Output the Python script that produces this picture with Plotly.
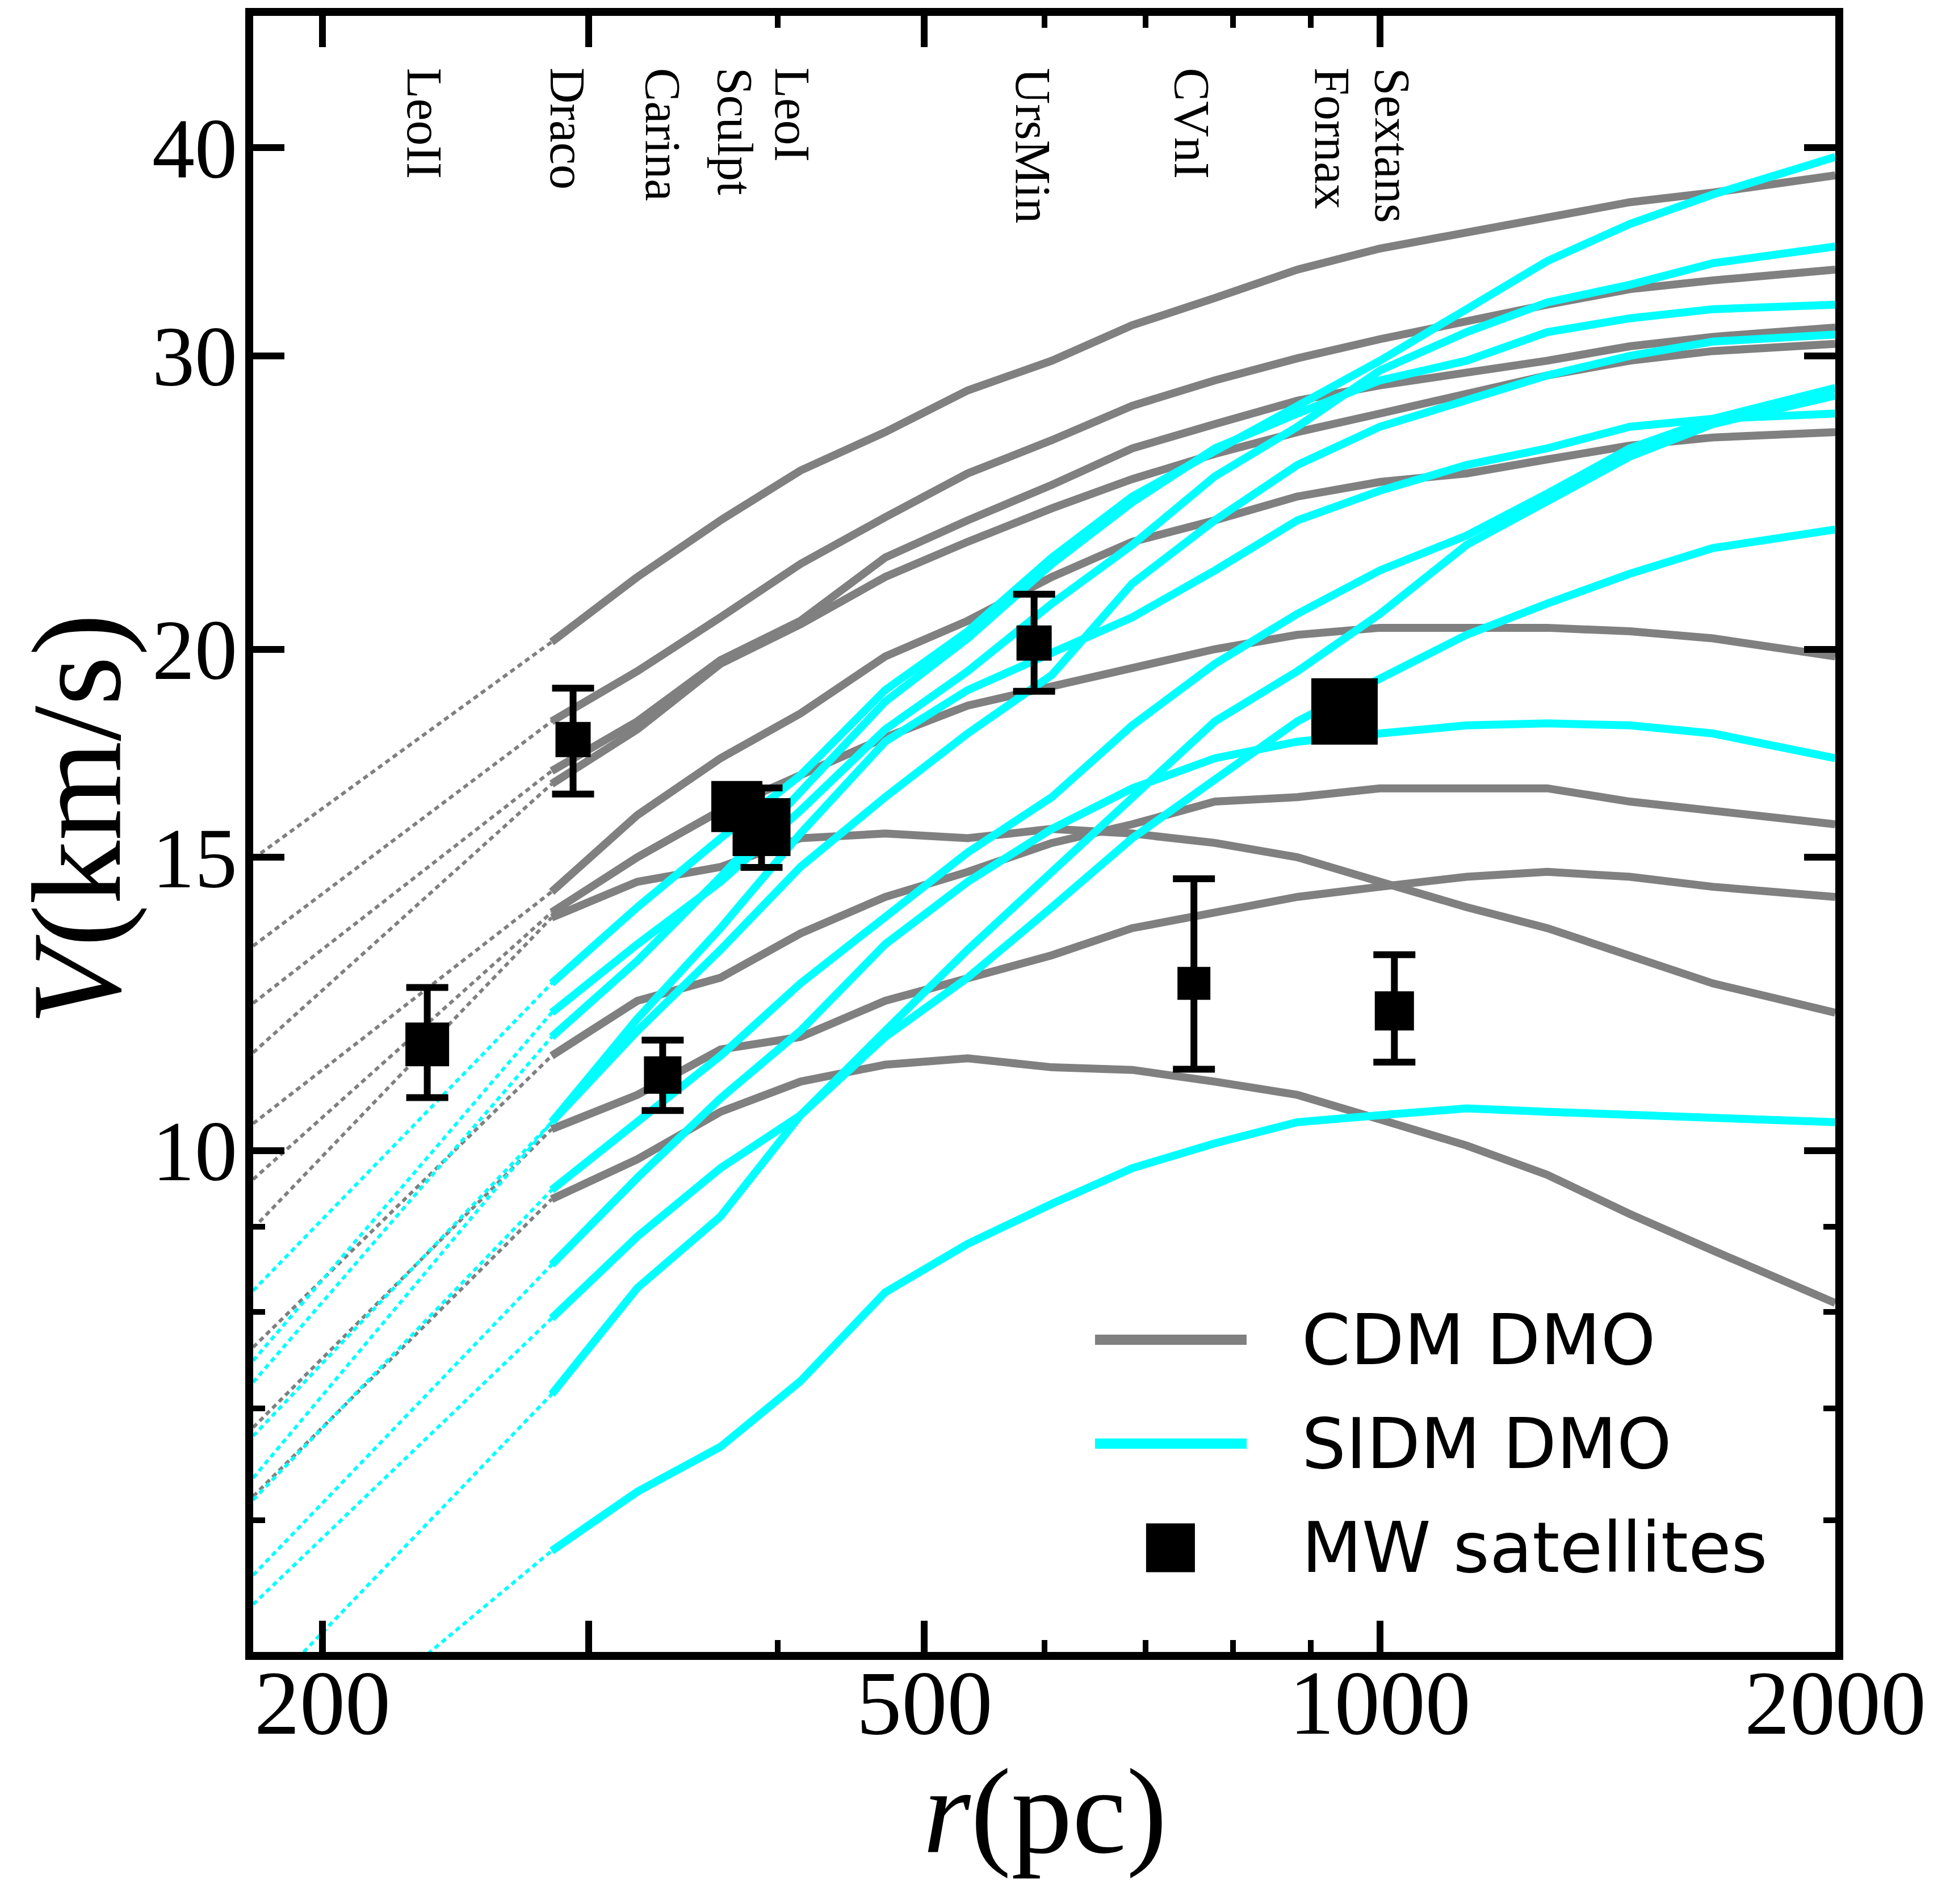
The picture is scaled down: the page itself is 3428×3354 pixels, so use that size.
import math
import plotly.graph_objects as go

# ---------------- data ----------------
# radii (pc) of the curve nodes
R = [283.5, 323, 366.6, 414, 471, 534, 607, 686, 778, 882, 1000, 1141, 1290, 1463, 1660, 2000]
R_LEFT = 180  # left end of the dotted extrapolations

# CDM DMO rotation curves, V (km/s)
CDM_1 = [20.2, 22.1, 23.9, 25.6, 27.0, 28.6, 29.8, 31.3, 32.5, 33.8, 34.8, 35.6, 36.4, 37.1, 37.6, 38.5]
CDM_2 = [18.1, 19.4, 20.9, 22.5, 24.0, 25.5, 26.7, 28.0, 29.0, 29.9, 30.7, 31.5, 32.2, 32.9, 33.3, 33.8]
CDM_3 = [16.9, 18.1, 19.7, 20.8, 22.7, 23.9, 25.1, 26.4, 27.3, 28.2, 28.8, 29.3, 29.8, 30.4, 30.8, 31.2]
CDM_4 = [16.6, 17.9, 19.6, 20.7, 22.1, 23.2, 24.3, 25.3, 26.2, 27.0, 27.7, 28.5, 29.2, 29.8, 30.2, 30.5]
CDM_5 = [14.3, 15.9, 17.2, 18.3, 19.8, 20.8, 22.1, 23.2, 23.9, 24.7, 25.2, 25.5, 26.0, 26.5, 26.8, 27.0]
CDM_6 = [13.9, 15.0, 16.0, 16.8, 17.7, 18.5, 19.0, 19.5, 20.0, 20.4, 20.6, 20.6, 20.6, 20.5, 20.3, 19.8]
CDM_7 = [11.4, 12.3, 12.7, 13.5, 14.2, 14.7, 15.3, 15.7, 16.2, 16.3, 16.5, 16.5, 16.5, 16.2, 16.0, 15.7]
CDM_8 = [10.3, 10.8, 11.5, 11.7, 12.3, 12.7, 13.1, 13.6, 13.9, 14.2, 14.4, 14.6, 14.7, 14.6, 14.4, 14.2]
CDM_9 = [13.8, 14.5, 14.8, 15.4, 15.5, 15.4, 15.6, 15.5, 15.3, 15.0, 14.5, 14.0, 13.6, 13.1, 12.6, 12.1]
CDM_10 = [9.35, 9.88, 10.55, 11.0, 11.26, 11.36, 11.22, 11.18, 11.0, 10.8, 10.44, 10.07, 9.67, 9.16, 8.71, 8.1]
CDM_LEFT = [14.97, 13.27, 12.26, 11.45, 10.38, 9.61, 7.62, 6.82, 8.98, 6.20]

# SIDM DMO rotation curves, V (km/s)
SIDM_1 = [12.6, 14.0, 15.4, 16.8, 18.9, 20.5, 22.7, 24.7, 26.3, 28.0, 29.8, 32.0, 34.2, 36.0, 37.5, 39.5]
SIDM_2 = [12.1, 13.3, 14.5, 16.0, 17.9, 19.4, 21.3, 23.1, 25.4, 27.2, 29.4, 31.0, 32.3, 33.1, 34.1, 34.9]
SIDM_3 = [11.7, 13.0, 14.6, 16.4, 18.6, 20.3, 22.5, 24.5, 26.4, 27.7, 29.0, 29.8, 31.0, 31.6, 32.0, 32.2]
SIDM_4 = [10.4, 11.8, 13.2, 14.8, 16.3, 17.8, 19.3, 21.9, 23.9, 25.8, 27.2, 28.2, 29.2, 30.0, 30.6, 30.9]
SIDM_5 = [9.47, 10.4, 11.4, 12.6, 13.8, 15.1, 16.3, 18.0, 19.6, 21.0, 22.3, 23.4, 24.8, 26.4, 27.5, 28.7]
SIDM_6 = [7.93, 8.88, 9.76, 10.5, 11.8, 13.2, 14.7, 16.3, 18.1, 19.4, 21.0, 23.1, 24.5, 26.1, 27.3, 28.4]
SIDM_7 = [10.4, 12.0, 13.6, 15.5, 17.6, 18.9, 19.9, 20.9, 22.3, 23.9, 24.9, 25.8, 26.4, 27.2, 27.5, 27.7]
SIDM_8 = [7.14, 8.27, 9.13, 10.5, 11.7, 12.7, 14.0, 15.4, 16.7, 18.1, 19.2, 20.4, 21.3, 22.2, 23.0, 23.6]
SIDM_9 = [8.54, 9.63, 10.75, 11.8, 13.3, 14.5, 15.6, 16.5, 17.2, 17.6, 17.8, 18.0, 18.05, 18.0, 17.8, 17.2]
SIDM_10 = [5.75, 6.24, 6.64, 7.27, 8.22, 8.79, 9.29, 9.76, 10.1, 10.4, 10.5, 10.6, 10.55, 10.5, 10.45, 10.4]
SIDM_LEFT = [8.24, 7.48, 7.26, 6.74, 6.17, 5.34, 6.36, 4.65, 5.56, 4.08]

# Milky Way satellites
SAT_NAMES = ["LeoII", "Draco", "Carina", "Sculpt", "LeoI", "UrsMin", "CVnI", "Fornax", "Sextans"]
SAT_R = [234.6, 292.9, 335.7, 375.8, 390.2, 590.8, 753.5, 947.6, 1022.3]
SAT_V = [11.58, 17.65, 11.10, 16.09, 15.64, 20.17, 12.60, 18.35, 12.13]
SAT_V_HI = [12.53, 18.95, 11.65, 16.4, 16.51, 21.58, 14.56, 18.75, 13.11]
SAT_V_LO = [10.76, 16.37, 10.57, 15.8, 14.79, 18.87, 11.19, 17.95, 11.30]
SAT_SIZE = [77, 62, 66, 90, 102, 62, 58, 117, 69]
LABEL_R = [233.5, 290.2, 335.6, 374.5, 408.8, 589.8, 751.4, 929.3, 1019.5]

X_TICKS = [200, 300, 500, 1000, 2000]
X_TICKTEXT = ["200", "", "500", "1000", "2000"]
X_MINOR = [400, 600, 700, 800, 900]
Y_TICKS = [10, 15, 20, 30, 40]
Y_TICKTEXT = ["10", "15", "20", "30", "40"]
Y_MINOR = [6, 7, 8, 9]

# ---------------- styles ----------------
GRAY = "#808080"
CYAN = "#00FFFF"
LW = 14
DOT_W = 6
DOT = "9px,7px"
SERIF = "Liberation Serif"
SANS = "DejaVu Sans"

CDM = [CDM_1, CDM_2, CDM_3, CDM_4, CDM_5, CDM_6, CDM_7, CDM_8, CDM_9, CDM_10]
SIDM = [SIDM_1, SIDM_2, SIDM_3, SIDM_4, SIDM_5, SIDM_6, SIDM_7, SIDM_8, SIDM_9, SIDM_10]

fig = go.Figure()

# dotted inner extrapolations
for curves, lefts, col in ((CDM, CDM_LEFT, GRAY), (SIDM, SIDM_LEFT, CYAN)):
    for v, vl in zip(curves, lefts):
        fig.add_trace(go.Scatter(x=[R_LEFT, R[0]], y=[vl, v[0]], mode="lines",
                                 line=dict(color=col, width=DOT_W, dash=DOT),
                                 showlegend=False, hoverinfo="skip"))

for v in CDM:
    fig.add_trace(go.Scatter(x=R, y=v, mode="lines", line=dict(color=GRAY, width=LW),
                             showlegend=False))
for v in SIDM:
    fig.add_trace(go.Scatter(x=R, y=v, mode="lines", line=dict(color=CYAN, width=LW),
                             showlegend=False))

err_plus = [h - v for h, v in zip(SAT_V_HI, SAT_V)]
err_minus = [v - l for v, l in zip(SAT_V, SAT_V_LO)]
fig.add_trace(go.Scatter(
    x=SAT_R, y=SAT_V, mode="markers",
    marker=dict(symbol="square", size=SAT_SIZE, color="black", opacity=1,
                line=dict(width=0)),
    error_y=dict(type="data", symmetric=False, array=err_plus, arrayminus=err_minus,
                 color="black", thickness=12, width=37),
    showlegend=False))

annotations = []
for name, rl in zip(SAT_NAMES, LABEL_R):
    annotations.append(dict(x=math.log10(rl), y=0.969, xref="x", yref="paper",
                            text=name, showarrow=False, textangle=90,
                            xanchor="center", yanchor="top",
                            font=dict(family=SERIF, size=88, color="black")))

# axis titles
annotations.append(dict(x=0.5004, y=-0.0975, xref="paper", yref="paper",
                        text="<i>r</i>(pc)", showarrow=False,
                        xanchor="center", yanchor="middle",
                        font=dict(family=SERIF, size=215, color="black")))
annotations.append(dict(x=-0.1114, y=0.509, xref="paper", yref="paper",
                        text="<i>V</i>(km/s)", showarrow=False, textangle=-90,
                        xanchor="center", yanchor="middle",
                        font=dict(family=SERIF, size=225, color="black")))

# hand-made legend (long line samples like the original)
LEG_X0, LEG_X1 = 0.5321, 0.6279
LEG_Y = [0.1908, 0.1273, 0.0637]
LEG_TEXT = ["CDM DMO", "SIDM DMO", "MW satellites"]
shapes = [
    dict(type="line", xref="paper", yref="paper", x0=LEG_X0, x1=LEG_X1, y0=LEG_Y[0], y1=LEG_Y[0],
         line=dict(color=GRAY, width=18)),
    dict(type="line", xref="paper", yref="paper", x0=LEG_X0, x1=LEG_X1, y0=LEG_Y[1], y1=LEG_Y[1],
         line=dict(color=CYAN, width=18)),
    dict(type="rect", xref="paper", yref="paper",
         x0=0.5798 - 0.01543, x1=0.5798 + 0.01543,
         y0=LEG_Y[2] - 0.01492, y1=LEG_Y[2] + 0.01492,
         fillcolor="black", line=dict(width=0)),
]
for t, yy in zip(LEG_TEXT, LEG_Y):
    annotations.append(dict(x=0.662, y=yy, xref="paper", yref="paper", text=t,
                            showarrow=False, xanchor="left", yanchor="middle",
                            font=dict(family=SANS, size=123, color="black")))

axis_common = dict(type="log", showgrid=False, zeroline=False, showline=True,
                   linecolor="black", linewidth=14, mirror="allticks",
                   ticks="inside", ticklen=55, tickwidth=12, tickcolor="black")

fig.update_layout(
    width=3428, height=3354,
    margin=dict(l=446, r=195, t=28, b=444),
    paper_bgcolor="white", plot_bgcolor="white",
    xaxis=dict(range=[math.log10(180), math.log10(2000)], tickmode="array",
               tickvals=X_TICKS, ticktext=X_TICKTEXT, ticklabelstandoff=-62,
               tickfont=dict(family=SERIF, size=160, color="black"),
               minor=dict(tickmode="array", tickvals=X_MINOR, ticks="inside",
                          ticklen=21, tickwidth=10, tickcolor="black", showgrid=False),
               **axis_common),
    yaxis=dict(range=[math.log10(5.0), math.log10(48.0)], tickmode="array",
               tickvals=Y_TICKS, ticktext=Y_TICKTEXT, ticklabelstandoff=-16,
               tickfont=dict(family=SERIF, size=150, color="black"),
               minor=dict(tickmode="array", tickvals=Y_MINOR, ticks="inside",
                          ticklen=21, tickwidth=10, tickcolor="black", showgrid=False),
               **axis_common),
    annotations=annotations,
    shapes=shapes,
    showlegend=False,
)

fig.write_html("out.html", config={"responsive": False})
